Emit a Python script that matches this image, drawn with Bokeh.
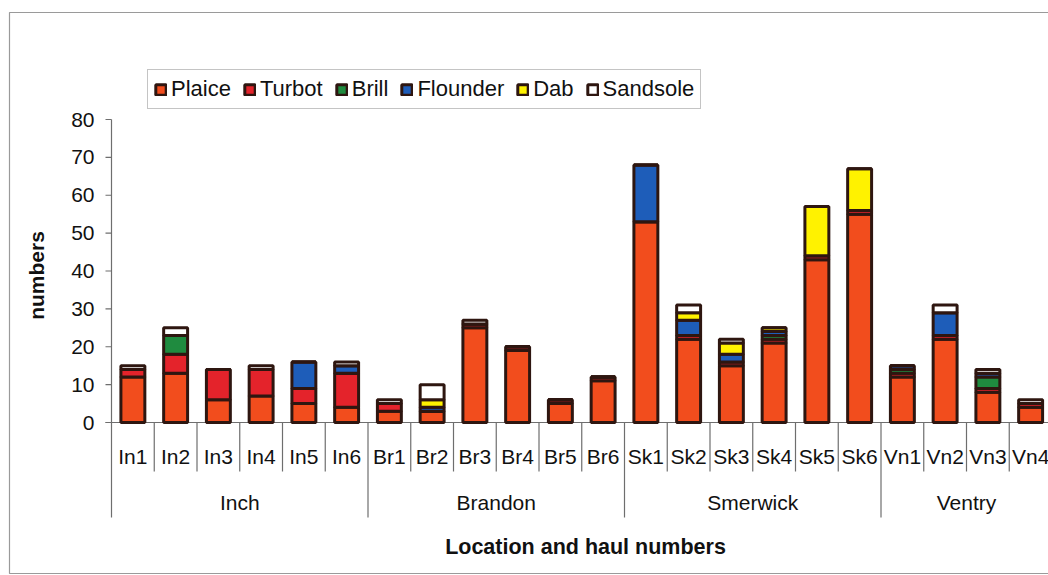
import math
from bokeh.plotting import figure
from bokeh.models import Range1d, ColumnDataSource, Legend, LegendItem
from bokeh.core.properties import value
from bokeh.embed import file_html
from bokeh.resources import INLINE

# ---------------- data ----------------
hauls = ["In1", "In2", "In3", "In4", "In5", "In6",
         "Br1", "Br2", "Br3", "Br4", "Br5", "Br6",
         "Sk1", "Sk2", "Sk3", "Sk4", "Sk5", "Sk6",
         "Vn1", "Vn2", "Vn3", "Vn4"]
locations = ["Inch", "Brandon", "Smerwick", "Ventry"]
hauls_per_location = [6, 6, 6, 4]
species = ["Plaice", "Turbot", "Brill", "Flounder", "Dab", "Sandsole"]

plaice   = [12, 13, 6, 7, 5, 4,   3, 3, 25, 19, 5, 11,   53, 22, 15, 21, 43, 55,   12, 22, 8, 4]
turbot   = [2, 5, 8, 7, 4, 9,     2, 0, 1, 1, 1, 1,      0, 1, 1, 1, 1, 1,         1, 1, 1, 1]
brill    = [0, 5, 0, 0, 0, 0,     0, 0, 0, 0, 0, 0,      0, 0, 0, 1, 0, 0,         1, 0, 3, 0]
flounder = [0, 0, 0, 0, 7, 2,     0, 1, 0, 0, 0, 0,      15, 4, 2, 1, 0, 0,        1, 6, 1, 0]
dab      = [0, 0, 0, 0, 0, 0,     0, 2, 0, 0, 0, 0,      0, 2, 3, 1, 13, 11,       0, 0, 0, 0]
sandsole = [1, 2, 0, 1, 0, 1,     1, 4, 1, 0, 0, 0,      0, 2, 1, 0, 0, 0,         0, 2, 1, 1]

y_ticks = [0, 10, 20, 30, 40, 50, 60, 70, 80]
x_title = "Location and haul numbers"
y_title = "numbers"

# ---------------- styles ----------------
colors = ["#f24d1d", "#e4232b", "#1f8b3f", "#1e5db9", "#fff200", "#ffffff"]
edge = "#2e1610"
axis_col = "#6e6e6e"
FONT = "Liberation Sans"

W, H = 1048, 575
PAGE = 0
X0 = 111.0          # page x of left edge of first category
CAT = 42.75         # px per category
Y0 = 422.0          # page y of value 0
UNIT = 303.0 / 80   # px per value unit


def px_x(page_x):
    return (page_x - X0) / CAT


def px_y(page_y):
    return (Y0 - page_y) / UNIT


p = figure(width=W, height=H, title=None,
           x_range=Range1d(px_x(PAGE), px_x(PAGE + W)),
           y_range=Range1d(px_y(PAGE + H), px_y(PAGE)),
           x_axis_type=None, y_axis_type=None,
           output_backend="svg", toolbar_location=None, min_border=0)
p.grid.visible = False
p.outline_line_color = None
p.background_fill_color = "white"
p.border_fill_color = "white"

# outer chart border
p.quad(left=[px_x(9)], right=[px_x(1070)], top=[px_y(12)], bottom=[px_y(573)],
       fill_color=None, line_color="#9a9a9a", line_width=1.2)

# ---------------- axes (drawn manually) ----------------
n = len(hauls)
# y axis line and ticks
p.segment(x0=[0], y0=[0], x1=[0], y1=[y_ticks[-1]], line_color=axis_col, line_width=1.2)
p.segment(x0=[px_x(105)] * len(y_ticks), y0=y_ticks, x1=[0] * len(y_ticks), y1=y_ticks,
          line_color=axis_col, line_width=1.2)
p.text(x=[px_x(94)] * len(y_ticks), y=y_ticks, text=[str(t) for t in y_ticks],
       text_align="right", text_baseline="middle", text_font=value(FONT),
       text_font_size="21px", text_color="#111111")
p.text(x=[px_x(36)], y=[px_y(275)], text=[y_title], angle=math.pi / 2,
       text_align="center", text_baseline="middle", text_font=value(FONT),
       text_font_size="21px", text_font_style="bold", text_color="#111111")

# x axis line
p.segment(x0=[px_x(105)], y0=[0], x1=[n + 1], y1=[0], line_color=axis_col, line_width=1.2)

# category separators
group_bounds = [0]
for c in hauls_per_location:
    group_bounds.append(group_bounds[-1] + c)
sep_x, sep_y = [], []
for k in range(n + 1):
    sep_x.append(k)
    sep_y.append(px_y(517) if k in group_bounds else px_y(471))
p.segment(x0=sep_x, y0=[0] * len(sep_x), x1=sep_x, y1=sep_y, line_color=axis_col, line_width=1.2)

# haul labels
p.text(x=[i + 0.5 for i in range(n)], y=[px_y(456)] * n, text=hauls,
       text_align="center", text_baseline="middle", text_font=value(FONT),
       text_font_size="21px", text_color="#111111")
# location labels
p.text(x=[(group_bounds[i] + group_bounds[i + 1]) / 2 for i in range(len(locations))],
       y=[px_y(502)] * len(locations), text=locations,
       text_align="center", text_baseline="middle", text_font=value(FONT),
       text_font_size="21px", text_color="#111111")
# x title
p.text(x=[px_x(585)], y=[px_y(546)], text=[x_title],
       text_align="center", text_baseline="middle", text_font=value(FONT),
       text_font_size="21.5px", text_font_style="bold", text_color="#111111")

# ---------------- stacked bars ----------------
source = ColumnDataSource(dict(
    x=[i + 0.5 for i in range(n)],
    Plaice=plaice, Turbot=turbot, Brill=brill,
    Flounder=flounder, Dab=dab, Sandsole=sandsole,
))
renderers = p.vbar_stack(species, x="x", width=0.56, source=source,
                         fill_color=colors, line_color=edge, line_width=3)

legend = Legend(items=[LegendItem(label=s, renderers=[r]) for s, r in zip(species, renderers)],
                orientation="horizontal", location=(147, 466),
                label_text_font=FONT, label_text_font_size="22px",
                label_text_color="#111111",
                glyph_width=13, glyph_height=13, label_standoff=4, spacing=12,
                padding=6, margin=0, border_line_color="#8a8a8a", border_line_width=1.2,
                background_fill_color="white")
p.add_layout(legend)

open("out.html", "w").write(file_html(p, INLINE))
